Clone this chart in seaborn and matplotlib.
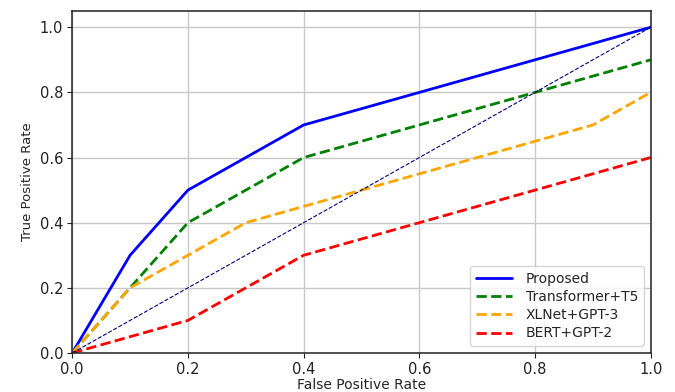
import pandas as pd
import matplotlib
matplotlib.use("Agg")
import matplotlib.pyplot as plt
import seaborn as sns

sns.set_style("ticks")
plt.rcParams["font.family"] = ["DejaVu Sans"]

# ---- data ----
proposed_fpr = [0.0, 0.1, 0.2, 0.4, 1.0]
proposed_tpr = [0.0, 0.3, 0.5, 0.7, 1.0]

t5_fpr = [0.0, 0.1, 0.2, 0.4, 0.8, 1.0]
t5_tpr = [0.0, 0.2, 0.4, 0.6, 0.8, 0.9]

xlnet_fpr = [0.0, 0.1, 0.2, 0.3, 0.4, 0.9, 1.0]
xlnet_tpr = [0.0, 0.2, 0.3, 0.4, 0.45, 0.7, 0.8]

bert_fpr = [0.0, 0.1, 0.2, 0.3, 0.4, 1.0]
bert_tpr = [0.0, 0.05, 0.1, 0.2, 0.3, 0.6]

chance = [0.0, 1.0]

series = [
    ("Proposed", proposed_fpr, proposed_tpr, "blue", "-"),
    ("Transformer+T5", t5_fpr, t5_tpr, "green", "--"),
    ("XLNet+GPT-3", xlnet_fpr, xlnet_tpr, "orange", "--"),
    ("BERT+GPT-2", bert_fpr, bert_tpr, "red", "--"),
]

fig = plt.figure(figsize=(6.75, 3.92), dpi=100)
ax = fig.add_axes([0.107, 0.0995, 0.857, 0.8725])

for name, fpr, tpr, color, ls in series:
    df = pd.DataFrame({"fpr": fpr, "tpr": tpr})
    sns.lineplot(data=df, x="fpr", y="tpr", ax=ax, color=color, linestyle=ls,
                 linewidth=2, label=name, sort=False)

sns.lineplot(x=chance, y=chance, ax=ax, color="navy", linestyle="--",
             linewidth=0.8)

ax.set_xlim(0, 1.0)
ax.set_ylim(0, 1.05)
ax.set_xticks([0.0, 0.2, 0.4, 0.6, 0.8, 1.0])
ax.set_yticks([0.0, 0.2, 0.4, 0.6, 0.8, 1.0])
ax.grid(True, color="#c8c8c8", linewidth=1)
ax.set_xlabel("False Positive Rate", fontsize=10, labelpad=1)
ax.set_ylabel("True Positive Rate", fontsize=9.5)
ax.tick_params(labelsize=10.5, colors="#222222", pad=3)
for s in ax.spines.values():
    s.set_color("#222222")
    s.set_linewidth(1.1)
ax.legend(loc="lower right", fontsize=10, frameon=True, fancybox=True,
          handlelength=2.6, handletextpad=1.0, labelspacing=0.3)

fig.savefig("out.png", dpi=100)
